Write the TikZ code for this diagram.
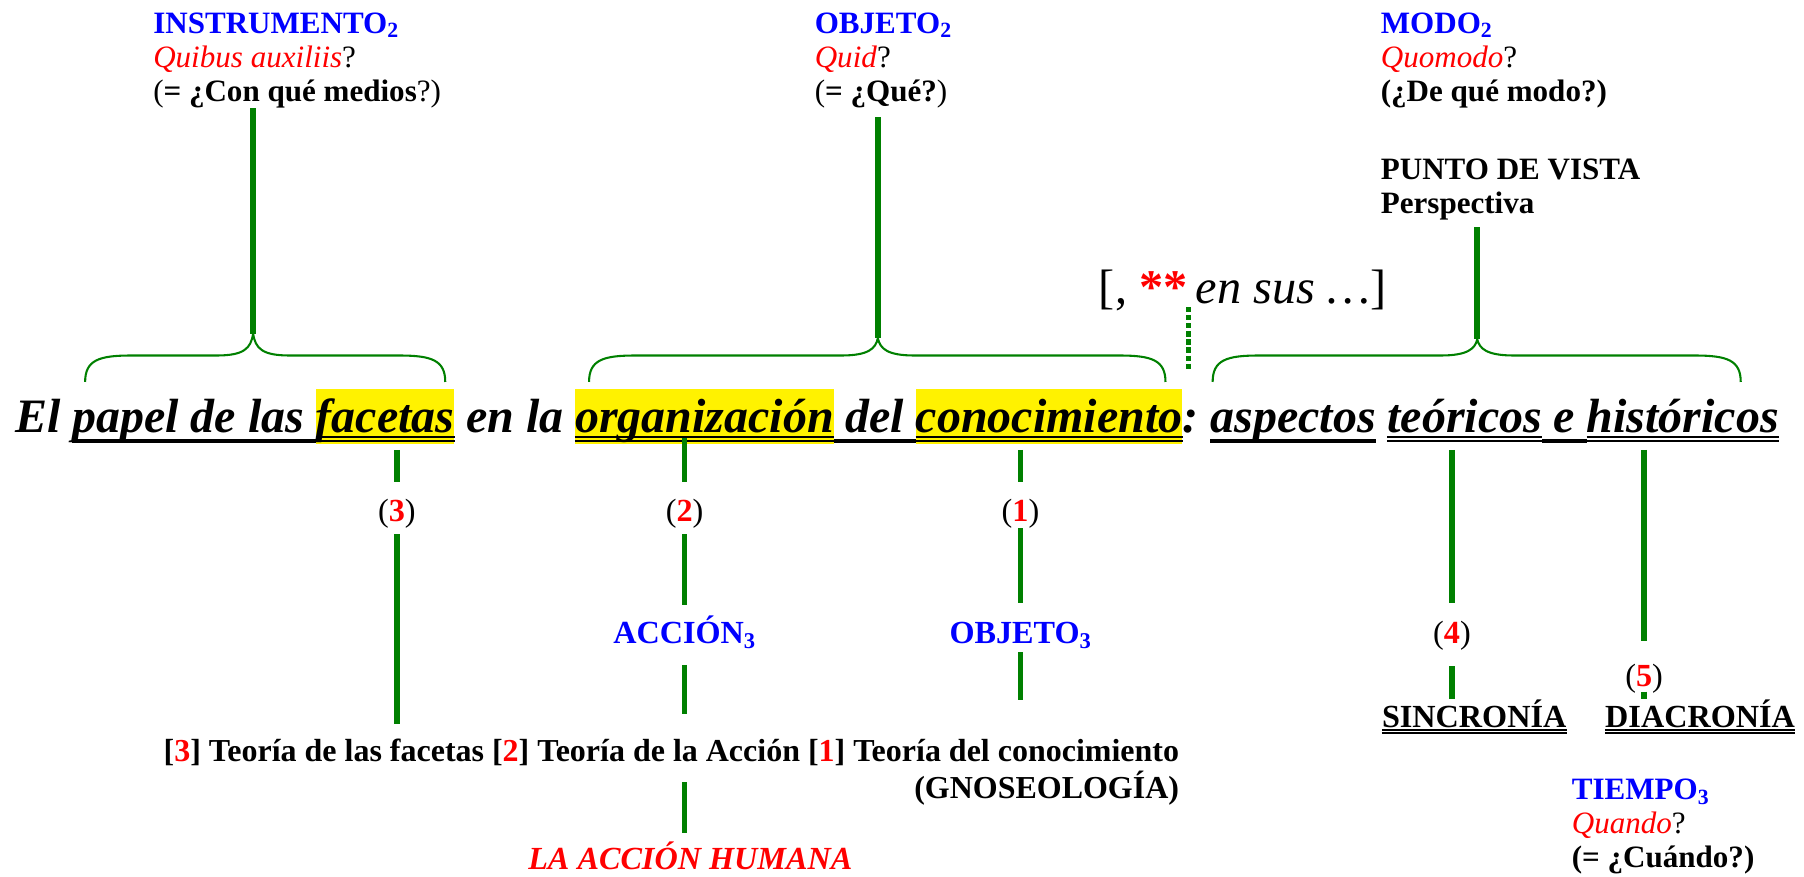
\documentclass[tikz,border=0pt]{standalone}
\usepackage{fontspec}
\setmainfont{Liberation Serif}
\usetikzlibrary{positioning}
\definecolor{stemgreen}{RGB}{0,128,0}
\newcommand\red[1]{\textcolor{red}{#1}}
\newcommand\wsp{9.8pt}
\tikzset{
  lbl/.style={anchor=north west, align=left, inner sep=0pt, font=\fontsize{27}{29.5}\selectfont},
  ttl/.style={inner sep=0pt, font=\bfseries\itshape\fontsize{41.7}{46}\selectfont},
  hl/.style={fill=yellow, text height=38pt, text depth=10pt},
  num/.style={anchor=base, inner sep=0pt, font=\fontsize{28}{32}\selectfont},
  blab/.style={anchor=base, inner sep=0pt, text=blue, font=\bfseries\fontsize{28}{32}\selectfont},
  bot/.style={inner sep=0pt, font=\bfseries\fontsize{27.8}{32}\selectfont},
  stem/.style={draw=stemgreen, line width=5pt},
  brc/.style={draw=stemgreen, line width=1.8pt},
}
% double and single underline, #1 = size factor
\newcommand\dul[3][1]{%
  \draw[line width=2.2*#1pt] ([yshift=-4*#1pt]#2.base west) -- ([yshift=-4*#1pt]#3.base east);
  \draw[line width=2.4*#1pt] ([yshift=-7.4*#1pt]#2.base west) -- ([yshift=-7.4*#1pt]#3.base east);}
\newcommand\sul[2]{%
  \draw[line width=3.6pt] ([yshift=-7pt]#1) -- ([yshift=-7pt]#2);}
\newcommand\topbrace[4]{%
  \draw[brc] (#1,332) .. controls (#1,313) and (#1+12,309) .. (#1+40,309)
    -- (#2-32,309) .. controls (#2-8,309) and (#2-2,303) .. (#2,#4)
    .. controls (#2+2,303) and (#2+8,309) .. (#2+32,309)
    -- (#3-40,309) .. controls (#3-12,309) and (#3,313) .. (#3,332);}

\begin{document}
\begin{tikzpicture}[x=1pt, y=-1pt]
  \useasboundingbox (0,0) rectangle (1568,762);

  \node[lbl] (instr) at (133,11) {\textcolor{blue}{\textbf{INSTRUMENTO\textsubscript{2}}}\\
    \red{\textit{Quibus auxiliis}}?\\ (\textbf{= ¿Con qué medios}?)};
  \node[lbl] (obj2) at (708,11) {\textcolor{blue}{\textbf{OBJETO\textsubscript{2}}}\\
    \red{\textit{Quid}}?\\ (\textbf{= ¿Qué?})};
  \node[lbl] (modo) at (1200,11) {\textcolor{blue}{\textbf{MODO\textsubscript{2}}}\\
    \red{\textit{Quomodo}}?\\ \textbf{(¿De qué modo?)}};
  \node[lbl] (punto) at (1200,138) {\textbf{PUNTO DE VISTA}\\ \textbf{Perspectiva}};
  \node[anchor=base west, inner sep=0pt, font=\fontsize{42}{46}\selectfont] (ensus) at (955,264)
    {[, \red{\textbf{**}}\,\textit{en sus …}]};

  \node[ttl, anchor=base west] (t1) at (13,376) {El};
  \node[ttl, base right=\wsp of t1] (t2) {papel de las};
  \node[ttl, hl, base right=\wsp of t2] (t3) {facetas};
  \node[ttl, base right=\wsp of t3] (t4) {en la};
  \node[ttl, hl, base right=\wsp of t4] (t5) {organización};
  \node[ttl, base right=\wsp of t5] (t6) {del};
  \node[ttl, hl, base right=\wsp of t6] (t7) {conocimiento};
  \node[ttl, base right=0pt of t7] (t8) {:};
  \node[ttl, base right=\wsp of t8] (t9) {aspectos};
  \node[ttl, base right=\wsp of t9] (t10) {teóricos};
  \node[ttl, base right=\wsp of t10] (t11) {e};
  \node[ttl, base right=\wsp of t11] (t12) {históricos};
  \sul{t2.base west}{t3.base west} \dul{t3}{t3}
  \dul{t5}{t5} \sul{t5.base east}{t7.base west} \dul{t7}{t7}
  \sul{t9.base west}{t9.base east}
  \dul{t10}{t10} \sul{t10.base east}{t12.base west} \dul{t12}{t12}

  \topbrace{74}{220}{387}{290}
  \topbrace{512}{763}{1013}{294}
  \topbrace{1054}{1284}{1513}{295}
  \coordinate (tipA) at (220,290);
  \coordinate (tipB) at (763,294);
  \coordinate (tipC) at (1284,295);
  \coordinate (dotTop) at (1033,267);
  \coordinate (dotBot) at (1033,323);
  \coordinate (below) at (0,391);

  \node[num] (n3) at (345,453) {(\red{\textbf{3}})};
  \node[num] (n2) at (595,453) {(\red{\textbf{2}})};
  \node[num] (n1) at (887,453) {(\red{\textbf{1}})};
  \node[blab] (accion) at (595,559) {ACCIÓN\textsubscript{3}};
  \node[blab] (obj3) at (887,559) {OBJETO\textsubscript{3}};
  \node[num] (n4) at (1262,559) {(\red{\textbf{4}})};
  \node[num] (n5) at (1429,597) {(\red{\textbf{5}})};
  \node[bot, anchor=base east] (teorias) at (1025,662)
    {[\red{3}] Teoría de las facetas [\red{2}] Teoría de la Acción [\red{1}] Teoría del conocimiento};
  \node[bot, anchor=base east] (gnoseo) at (1025,694) {(GNOSEOLOGÍA)};
  \node[bot, anchor=base, text=red, font=\bfseries\itshape\fontsize{28}{32}\selectfont]
    (humana) at (600,756) {LA ACCIÓN HUMANA};
  \node[anchor=base west, inner sep=0pt, font=\bfseries\fontsize{28}{32}\selectfont] (sincro) at (1201,632) {SINCRONÍA};
  \node[anchor=base west, inner sep=0pt, font=\bfseries\fontsize{28}{32}\selectfont] (diacro) at (1395,632) {DIACRONÍA};
  \dul[0.65]{sincro}{sincro} \dul[0.65]{diacro}{diacro}
  \node[lbl] (tiempo) at (1366,677) {\textcolor{blue}{\textbf{TIEMPO\textsubscript{3}}}\\
    \red{\textit{Quando}}?\\ \textbf{(= ¿Cuándo?)}};

  \path[stem]
  (tipA |- instr.south) edge (tipA)
  ([yshift=-8pt]tipB |- obj2.south) edge (tipB)
  ([yshift=-6pt]tipC |- punto.south) edge (tipC)
  (n3 |- below) edge ([yshift=14pt]n3.north)
  ([yshift=-5pt]n3.south) edge ([yshift=13pt]n3 |- teorias.north)
  ([yshift=10pt]n2 |- below) edge ([yshift=14pt]n2.north)
  ([yshift=-5pt]n2.south) edge ([yshift=9pt]accion.north)
  ([yshift=-14pt]accion.south) edge ([yshift=22pt]n2 |- teorias.north)
  ([yshift=-14pt]n2 |- teorias.south) edge ([yshift=8pt]n2 |- humana.north)
  (n1 |- below) edge ([yshift=14pt]n1.north)
  (n1.south) edge ([yshift=16pt]obj3.north)
  ([yshift=-3pt]obj3.south) edge ([yshift=34pt]n1 |- teorias.north)
  (n4 |- below) edge ([yshift=15pt]n4.north)
  ([yshift=-14pt]n4.south) edge (sincro.north -| n4)
  (n5 |- below) edge ([yshift=20pt]n5.north)
  ([yshift=2pt]n5.south) edge (diacro.north -| n5)
  ;
  \draw[stem, line width=4.5pt, dash pattern=on 4.5pt off 2.5pt] (dotTop) -- (dotBot);
\end{tikzpicture}
\end{document}
